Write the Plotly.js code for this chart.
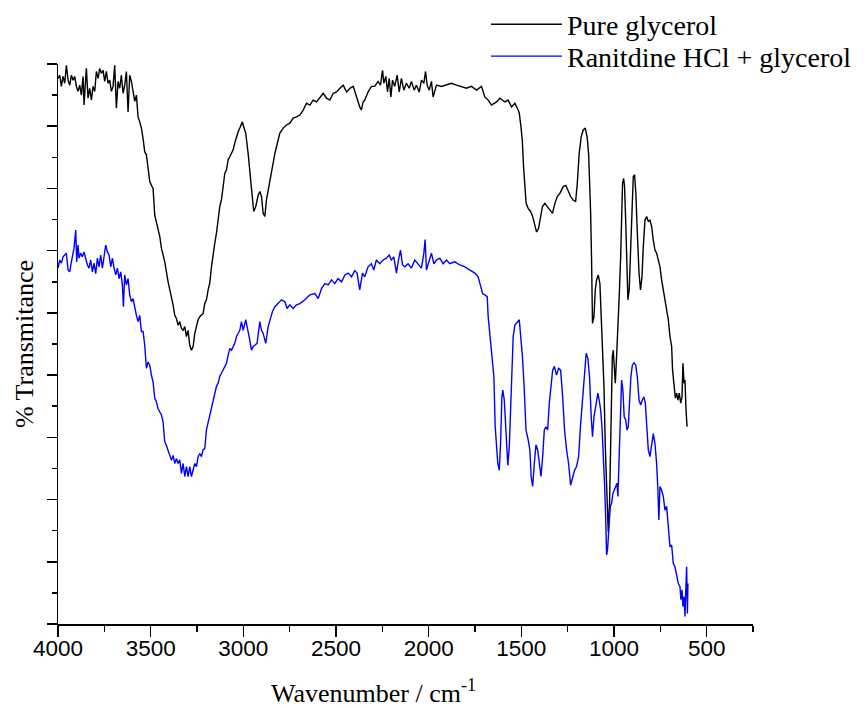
<!DOCTYPE html>
<html>
<head>
<meta charset="utf-8">
<script src="https://cdn.plot.ly/plotly-3.0.1.min.js"></script>
<style>html,body{margin:0;padding:0;background:#fff;}#chart{width:866px;height:708px;}</style>
</head>
<body>
<div id="chart"></div>
<script>
// Pure glycerol: [wavenumber (cm-1), % transmittance]
const pureGlycerol = [
[3999.8,87.7],[3990.8,88.2],[3981.8,86.4],[3972.8,88.0],[3963.8,86.9],[3954.8,89.8],[3945.8,87.4],[3936.8,86.6],[3927.8,88.2],[3918.8,87.4],[3909.9,88.0],[3900.9,86.4],[3891.9,85.6],[3882.9,86.6],[3873.9,85.0],[3864.9,88.0],[3859.5,83.4],[3852.3,88.2],[3846.9,89.3],[3837.9,84.5],[3828.9,86.1],[3819.9,84.2],[3810.9,86.4],[3801.9,85.6],[3792.9,88.8],[3783.9,87.7],[3774.9,89.3],[3765.9,88.5],[3756.9,89.0],[3748,87.2],[3739,88.8],[3730,86.9],[3721,87.4],[3712,85.6],[3703,86.4],[3694,89.8],[3685,82.9],[3676,87.2],[3667,86.1],[3658,88.2],[3649,85.3],[3640,86.6],[3631,88.8],[3622,82.3],[3613,88.2],[3604,87.2],[3595,85.6],[3586,84.0],[3577,85.0],[3568,81.5],[3559,80.7],[3550,79.7],[3541,78.0],[3532,75.9],[3523,75.4],[3514,72.7],[3505,71.1],[3496,70.5],[3487,70.0],[3478,65.7],[3460,63.6],[3451,62.3],[3442,60.4],[3424,58.2],[3406,55.0],[3397,53.9],[3388,52.3],[3379,51.3],[3370,49.6],[3361,49.1],[3352,48.0],[3343,48.6],[3334,47.5],
[3325,47.2],[3316,47.8],[3307,46.2],[3298,47.2],[3289,44.8],[3280,44.0],[3271,44.6],[3262,46.7],[3253,47.8],[3244,48.9],[3235,49.4],[3217,49.9],[3208,51.5],[3199,52.1],[3190,53.7],[3181,54.8],[3172,57.4],[3163,59.6],[3154,61.2],[3145,62.8],[3136,64.9],[3127,67.1],[3118,68.2],[3109,70.3],[3100,72.4],[3091,73.0],[3082,74.6],[3073,75.1],[3055,76.2],[3046,77.3],[3037,78.3],[3028,79.1],[3019,79.7],[3010,80.5],[3005,80.7],[2998,79.9],[2987,78.9],[2974,75.6],[2965,73.0],[2956,70.8],[2944,66.3],[2933,67.1],[2920,68.9],[2911,69.5],[2902,68.7],[2893,66.0],[2884,65.5],[2875,68.2],[2866,69.8],[2848,73.0],[2830,75.6],[2821,76.7],[2803,78.9],[2785,79.7],[2767,80.2],[2749,80.5],[2731,81.3],[2713,81.5],[2695,81.8],
[2677,82.6],[2659,83.7],[2641,83.4],[2623,84.2],[2605,83.9],[2587,84.7],[2569,85.3],[2551,84.5],[2533,84.2],[2515,85.3],[2497,85.5],[2479,86.1],[2461,86.6],[2443,85.5],[2425,86.1],[2407,86.4],[2390,84.7],[2381,83.9],[2372,83.1],[2363,82.6],[2354,83.9],[2345,84.2],[2327,85.5],[2309,86.4],[2291,86.4],[2273,87.2],[2260,86.6],[2249,89.0],[2242,86.9],[2231,88.0],[2222,85.5],[2213,87.7],[2204,84.7],[2195,87.4],[2183,86.4],[2170,88.2],[2159,85.5],[2147,87.7],[2134,85.8],[2120,86.9],[2105,86.1],[2093,87.2],[2078,85.8],[2066,86.6],[2051,85.5],[2039,87.4],[2026,86.9],[2017,88.8],[2008,86.6],[1997,85.8],[1985,87.2],[1976,84.7],[1958,86.6],[1931,86.4],[1904,86.6],[1877,86.9],[1850,86.6],[1823,86.4],[1796,86.1],[1769,86.4],[1742,85.8],[1715,86.4],[1697,84.7],[1679,84.2],[1661,83.4],[1634,83.9],[1616,84.5],[1589,83.9],[1571,84.2],[1553,83.1],[1535,83.7],[1517,82.6],
[1511,82.1],[1502,79.9],[1495,77.8],[1488,73.5],[1481,70.3],[1474,67.6],[1463,66.8],[1450,66.3],[1439,65.5],[1429,64.4],[1418,63.0],[1407,63.6],[1396,65.2],[1386,67.1],[1373,67.6],[1360,67.1],[1346,66.5],[1332,66.0],[1319,67.6],[1306,68.7],[1292,69.2],[1274,70.3],[1260,70.5],[1247,69.5],[1234,68.7],[1220,68.1],[1207,67.9],[1198,70.8],[1188,75.6],[1177,78.3],[1166,79.4],[1155,79.7],[1145,78.3],[1137,75.6],[1132,71.4],[1126,66.0],[1121,58.5],[1116,48.3],[1108,49.4],[1101,53.7],[1094,55.3],[1085,56.1],[1076,54.7],[1069,49.9],[1062,43.5],[1054,38.1],[1047,28.5],[1040,20.5],[1031,14.8],[1024,19.4],[1017,30.1],[1009,43.0],[1004,44.0],[999,40.3],[993,38.7],[986,43.0],[979,47.2],[972,52.6],[964,59.0],[959,68.1],[954,70.8],[948,71.6],[943,70.3],[937,64.9],[932,57.4],[925,52.1],[918,53.7],[910,60.6],[903,68.1],[896,71.9],[889,72.2],[882,69.2],[874,62.8],[865,56.4],[857,53.7],[849,55.8],[842,60.6],[833,64.9],[824,65.5],[815,64.7],[806,64.9],[797,63.9],[788,61.7],[779,60.1],[770,59.6],[761,58.5],[752,57.4],[743,55.3],[734,53.7],[725,52.1],[716,49.9],[707,48.9],[698,46.2],[689,44.6],[684,40.8],[677,38.1],[669,36.3],[662,37.1],[655,36.0],[648,37.1],[640,35.5],[633,36.5],[628,41.9],[622,38.7],[617,39.2],[612,34.9],[606,31.7]
];

// Ranitidine HCl + glycerol: [wavenumber (cm-1), % transmittance]
const ranitidineGlycerol = [
[3999.8,57.2],[3990.8,58.5],[3981.8,58.0],[3972.8,59.0],[3963.8,59.3],[3954.8,59.6],[3945.8,56.9],[3936.8,56.6],[3927.8,58.2],[3918.8,59.3],[3913.4,60.4],[3904.4,63.3],[3899,58.2],[3891.9,60.9],[3886.5,58.8],[3877.5,59.6],[3868.5,59.0],[3859.5,59.8],[3850.5,58.8],[3841.5,57.7],[3832.5,57.2],[3823.5,58.5],[3814.5,56.6],[3805.5,58.0],[3796.5,56.3],[3787.5,58.8],[3778.5,57.4],[3769.5,59.3],[3760.5,57.2],[3751.5,58.8],[3742.5,60.9],[3733.5,59.8],[3724.5,59.3],[3715.5,57.4],[3706.5,58.8],[3697.5,57.2],[3688.5,56.1],[3679.6,57.2],[3670.6,55.5],[3661.6,56.6],[3652.6,54.5],[3647,51.0],[3640,56.1],[3631,54.5],[3622,55.5],[3613,52.9],[3604,51.8],[3595,52.3],[3586,50.7],[3577,49.6],[3568,48.6],[3559,49.6],[3550,47.0],[3541,47.0],[3532,44.8],[3523,41.1],[3514,42.1],[3505,41.6],[3496,40.0],[3487,38.9],[3478,36.3],[3469,35.7],[3460,34.6],[3442,33.6],[3433,32.5],[3424,29.3],[3415,28.7],[3406,27.7],[3397,27.1],[3388,26.3],[3379,27.1],[3370,25.8],[3361,26.6],[3352,25.8],
[3343,26.4],[3334,24.2],[3325,25.8],[3316,23.7],[3307,25.3],[3298,23.7],[3289,25.3],[3280,23.7],[3271,24.8],[3262,25.8],[3253,25.3],[3244,26.9],[3235,27.4],[3226,26.9],[3217,28.0],[3208,28.2],[3199,31.2],[3190,32.3],[3181,33.9],[3172,34.9],[3163,36.0],[3154,37.1],[3145,38.2],[3136,38.7],[3127,39.8],[3118,40.3],[3109,40.8],[3091,41.9],[3082,43.2],[3073,44.3],[3064,44.0],[3055,44.6],[3046,45.1],[3037,46.2],[3028,46.7],[3019,47.2],[3010,48.6],[3001,47.2],[2987,48.9],[2974,47.2],[2965,45.6],[2956,44.0],[2947,44.6],[2938,44.8],[2926,45.1],[2911,48.6],[2902,47.2],[2893,46.7],[2879,45.1],[2866,47.8],[2857,48.9],[2843,50.2],[2830,51.0],[2812,51.5],[2794,52.1],[2776,51.8],[2764,50.7],[2749,51.3],[2731,50.7],[2713,51.3],
[2695,51.5],[2668,52.1],[2641,52.9],[2614,53.1],[2596,52.3],[2578,53.9],[2560,54.7],[2542,54.5],[2524,55.3],[2507,54.7],[2489,55.5],[2470,55.0],[2452,56.1],[2434,56.4],[2416,55.8],[2399,56.8],[2386,56.4],[2372,53.7],[2357,56.4],[2345,55.8],[2327,57.4],[2309,57.9],[2296,56.9],[2282,58.5],[2264,57.9],[2246,58.5],[2228,58.8],[2213,59.3],[2201,58.5],[2188,59.0],[2174,56.4],[2163,58.5],[2152,60.1],[2141,57.7],[2129,57.4],[2111,57.9],[2093,57.2],[2075,58.5],[2057,57.9],[2039,57.2],[2026,59.6],[2019,61.8],[2012,56.9],[1997,58.5],[1985,59.6],[1972,57.9],[1958,58.5],[1940,58.8],[1922,57.9],[1904,58.5],[1886,57.9],[1859,58.2],[1832,57.7],[1805,57.4],[1778,56.9],[1751,56.4],[1733,55.8],[1724,54.7],[1709,53.1],[1697,52.9],[1684,52.6],
[1679,49.4],[1666,45.6],[1655,42.4],[1648,39.7],[1641,31.7],[1634,28.5],[1627,25.8],[1619,24.7],[1612,29.0],[1605,36.5],[1600,37.6],[1592,36.0],[1585,31.7],[1578,26.3],[1573,25.5],[1565,28.5],[1558,35.5],[1551,40.8],[1544,46.2],[1535,48.0],[1522,48.6],[1511,48.9],[1504,46.4],[1494,43.0],[1484,37.6],[1475,31.2],[1463,29.6],[1454,28.0],[1447,23.7],[1439,22.1],[1430,25.8],[1421,28.8],[1412,28.0],[1403,25.8],[1394,23.7],[1385,26.9],[1376,31.2],[1367,31.7],[1358,31.2],[1349,35.5],[1340,38.7],[1331,40.8],[1322,41.4],[1310,40.0],[1299,41.1],[1288,40.8],[1277,36.5],[1267,31.2],[1256,28.0],[1245,25.8],[1234,22.3],[1223,23.4],[1213,24.7],[1202,25.3],[1191,26.9],[1180,32.2],[1170,36.5],[1159,40.3],[1150,43.5],[1141,42.7],[1132,39.7],[1123,33.3],[1116,30.1],[1108,33.3],[1101,34.4],[1094,35.5],[1087,37.1],[1080,36.0],[1072,34.4],[1065,31.7],[1058,28.0],[1051,22.6],[1045,17.2],[1040,11.1],[1035,11.9],[1027,15.1],[1020,18.9],[1013,19.4],[1006,21.0],[999,21.5],[991,22.1],[984,22.6],[979,20.5],[973,25.8],[966,35.5],[959,39.2],[952,37.6],[945,33.3],[937,32.8],[930,31.2],[923,31.7],[916,37.1],[909,39.7],[901,41.6],[892,42.0],[883,41.6],[874,39.7],[865,36.0],[856,35.2],[847,36.0],[839,36.5],[831,35.5],[824,31.2],[815,28.0],[806,26.9],[797,29.0],[788,30.6],[779,29.0],[770,25.8],[763,21.5],[758,16.7],[752,22.1],[743,21.5],[734,20.5],[725,18.3],[716,18.9],[707,16.2],[698,12.4],[689,12.7],[680,9.7],[671,9.2],[662,8.1],[653,6.5],[644,6.0],[639,3.9],[633,5.5],[628,2.8],[622,4.4],[617,1.2],[612,6.0],[608,9.2],[604,1.7],[601,6.5]
];

const seriesNames = ['Pure glycerol', 'Ranitdine HCl + glycerol'];
const seriesColors = ['#000000', '#0000ff'];
const legendIds = ['legend', 'legend2'];
const xTickValues = [4000, 3500, 3000, 2500, 2000, 1500, 1000, 500];
const xTickLabels = ['4000', '3500', '3000', '2500', '2000', '1500', '1000', '500'];

const traces = [pureGlycerol, ranitidineGlycerol].map((s, i) => ({
  type: 'scatter', mode: 'lines',
  x: s.map(p => p[0]), y: s.map(p => p[1]),
  name: seriesNames[i],
  legend: legendIds[i],
  line: {color: seriesColors[i], width: 1.4},
  hoverinfo: 'x+y'
}));

const serif = 'Liberation Serif, Times New Roman, serif';
const sans = 'Liberation Sans, Arial, sans-serif';

const legendBase = {
  xanchor: 'left', yanchor: 'top',
  font: {family: serif, size: 28, color: '#000'},
  bgcolor: 'rgba(0,0,0,0)', borderwidth: 0,
  itemwidth: 71, tracegroupgap: 0
};

const layout = {
  width: 866, height: 708,
  margin: {l: 58, r: 113, t: 64, b: 84, pad: 0, autoexpand: false},
  paper_bgcolor: '#ffffff', plot_bgcolor: '#ffffff',
  showlegend: true,
  legend: Object.assign({}, legendBase, {x: 0.6158, y: 1.1152}),
  legend2: Object.assign({}, legendBase, {x: 0.6158, y: 1.0581}),
  xaxis: {
    range: [4000, 250], autorange: false,
    tickmode: 'array', tickvals: xTickValues, ticktext: xTickLabels,
    ticks: 'outside', ticklen: 11, tickwidth: 1.5, tickcolor: '#000',
    minor: {dtick: 250, tick0: 0, ticks: 'outside', ticklen: 6, tickwidth: 1.5, tickcolor: '#000', showgrid: false},
    showline: true, linewidth: 1.5, linecolor: '#000',
    showgrid: false, zeroline: false,
    ticklabelstandoff: -8,
    tickfont: {family: sans, size: 22.5, color: '#000'}
  },
  yaxis: {
    range: [0, 90], autorange: false,
    tick0: 0, dtick: 10,
    ticks: 'outside', ticklen: 10, tickwidth: 1.5, tickcolor: '#000',
    minor: {dtick: 5, tick0: 0, ticks: 'outside', ticklen: 5, tickwidth: 1.5, tickcolor: '#000', showgrid: false},
    showticklabels: false,
    showline: true, linewidth: 1.5, linecolor: '#000',
    showgrid: false, zeroline: false,
    title: {text: '% Transmitance', font: {family: serif, size: 26, color: '#000'}, standoff: 5}
  },
  annotations: [{
    xref: 'paper', yref: 'paper', x: 0.4544, y: -0.1214,
    xanchor: 'center', yanchor: 'middle', showarrow: false,
    text: 'Wavenumber / cm<sup>-1</sup>',
    font: {family: serif, size: 26, color: '#000'}
  }]
};

Plotly.newPlot('chart', traces, layout, {displayModeBar: false, staticPlot: true});
</script>
</body>
</html>
